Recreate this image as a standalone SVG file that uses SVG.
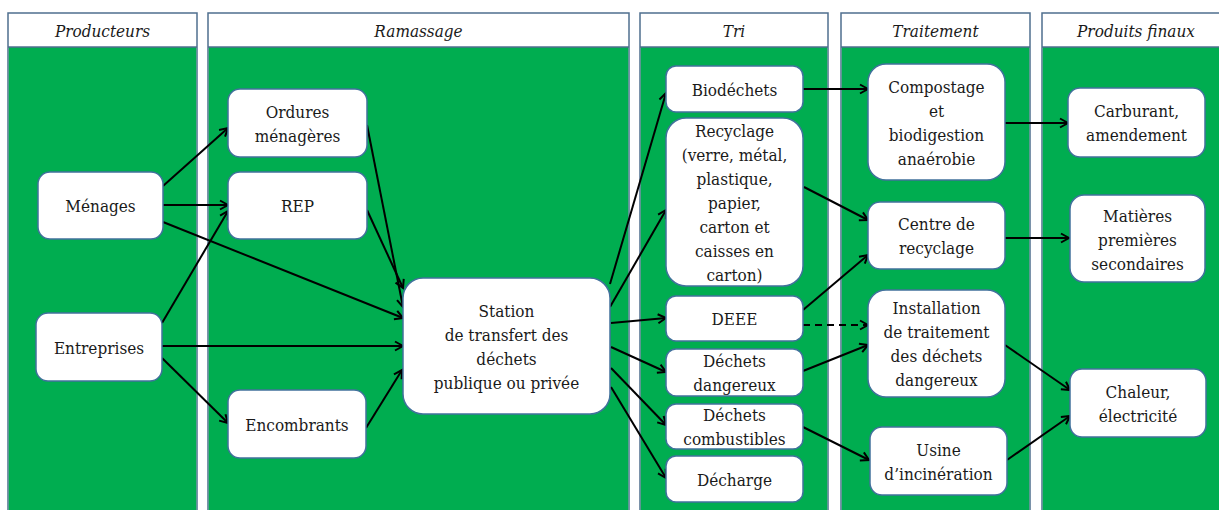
<svg xmlns="http://www.w3.org/2000/svg" width="1219" height="510" viewBox="0 0 1219 510">
<defs>
<style>
.col{fill:#ffffff;stroke:#4F6F8F;stroke-width:1.5}
.body{fill:#00AD50}
.hdr{font-family:'DejaVu Serif Condensed','DejaVu Serif',serif;font-stretch:condensed;font-style:italic;font-size:17px;fill:#1a1a1a;text-anchor:middle}
.node rect{fill:#ffffff;stroke:#41719C;stroke-width:1.5}
.node text{font-family:'DejaVu Serif Condensed','DejaVu Serif',serif;font-stretch:condensed;font-size:17px;fill:#1a1a1a;text-anchor:middle}
.conn line{stroke:#000;stroke-width:2;marker-end:url(#arr)}
.conn line.dash{stroke-dasharray:7 5}
</style>
<marker id="arr" markerUnits="userSpaceOnUse" markerWidth="12" markerHeight="12" refX="10" refY="6" orient="auto">
<path d="M2,1.5 L10,6 L2,10.5" fill="none" stroke="#000" stroke-width="2"/>
</marker>
</defs>
<rect width="1219" height="510" fill="#ffffff"/>
<g id="columns">
<g id="col-producteurs"><rect class="col" x="8" y="13" width="189" height="510"/><rect class="body" x="8.75" y="47" width="187.5" height="470"/><line x1="8" y1="47" x2="197" y2="47" stroke="#4F6F8F" stroke-width="1.5"/><text class="hdr" x="102.5" y="37">Producteurs</text></g>
<g id="col-ramassage"><rect class="col" x="208" y="13" width="421" height="510"/><rect class="body" x="208.75" y="47" width="419.5" height="470"/><line x1="208" y1="47" x2="629" y2="47" stroke="#4F6F8F" stroke-width="1.5"/><text class="hdr" x="418.5" y="37">Ramassage</text></g>
<g id="col-tri"><rect class="col" x="640" y="13" width="188" height="510"/><rect class="body" x="640.75" y="47" width="186.5" height="470"/><line x1="640" y1="47" x2="828" y2="47" stroke="#4F6F8F" stroke-width="1.5"/><text class="hdr" x="734" y="37">Tri</text></g>
<g id="col-traitement"><rect class="col" x="841" y="13" width="189" height="510"/><rect class="body" x="841.75" y="47" width="187.5" height="470"/><line x1="841" y1="47" x2="1030" y2="47" stroke="#4F6F8F" stroke-width="1.5"/><text class="hdr" x="935.5" y="37">Traitement</text></g>
<g id="col-produits"><rect class="col" x="1042" y="13" width="185" height="510"/><rect class="body" x="1042.75" y="47" width="183" height="470"/><line x1="1042" y1="47" x2="1227" y2="47" stroke="#4F6F8F" stroke-width="1.5"/><text class="hdr" x="1136" y="37">Produits finaux</text></g>
</g>
<g id="connectors" class="conn">
<line x1="163" y1="186" x2="228" y2="128"/>
<line x1="163" y1="205" x2="228" y2="205"/>
<line x1="163" y1="222" x2="403" y2="318"/>
<line x1="162" y1="323" x2="228" y2="211"/>
<line x1="162" y1="346" x2="403" y2="346"/>
<line x1="162" y1="358" x2="228" y2="423"/>
<line x1="366" y1="428" x2="402" y2="370"/>
<line x1="367" y1="125" x2="403" y2="307"/>
<line x1="367" y1="210" x2="403" y2="288"/>
<line x1="610" y1="284" x2="666" y2="93"/>
<line x1="610" y1="307" x2="666" y2="210"/>
<line x1="611" y1="323" x2="666" y2="318"/>
<line x1="611" y1="347" x2="666" y2="372"/>
<line x1="611" y1="368" x2="666" y2="425"/>
<line x1="611" y1="387" x2="666" y2="478"/>
<line x1="803" y1="89" x2="868" y2="89"/>
<line x1="804" y1="187" x2="868" y2="220"/>
<line x1="803" y1="310" x2="868" y2="255"/>
<line class="dash" x1="803" y1="325" x2="868" y2="325"/>
<line x1="803" y1="371" x2="868" y2="345"/>
<line x1="803" y1="427" x2="869" y2="460"/>
<line x1="1005" y1="123" x2="1068" y2="123"/>
<line x1="1005" y1="238" x2="1069" y2="238"/>
<line x1="1005" y1="345" x2="1070" y2="390"/>
<line x1="1007" y1="460" x2="1070" y2="416"/>
</g>
<g id="nodes">
<g id="menages" class="node"><rect x="38" y="172" width="125" height="67" rx="12"/><text x="100.5" y="212">Ménages</text></g>
<g id="entreprises" class="node"><rect x="36" y="313" width="126" height="68" rx="12"/><text x="99" y="353.5">Entreprises</text></g>
<g id="ordures" class="node"><rect x="228" y="89" width="139" height="68" rx="12"/><text x="297.5" y="117.5">Ordures</text><text x="297.5" y="141.5">ménagères</text></g>
<g id="rep" class="node"><rect x="228" y="172" width="139" height="67" rx="12"/><text x="297.5" y="212">REP</text></g>
<g id="encombrants" class="node"><rect x="228" y="390" width="138" height="68" rx="12"/><text x="297" y="430.5">Encombrants</text></g>
<g id="station" class="node"><rect x="403" y="278" width="207" height="136" rx="20"/><text x="506.5" y="316.5">Station</text><text x="506.5" y="340.5">de transfert des</text><text x="506.5" y="364.5">déchets</text><text x="506.5" y="388.5">publique ou privée</text></g>
<g id="biodechets" class="node"><rect x="666" y="66" width="137" height="46" rx="10"/><text x="734.5" y="95.5">Biodéchets</text></g>
<g id="recyclage" class="node"><rect x="666" y="118" width="137" height="168" rx="20"/><text x="734.5" y="136.5">Recyclage</text><text x="734.5" y="160.5">(verre, métal,</text><text x="734.5" y="184.5">plastique,</text><text x="734.5" y="208.5">papier,</text><text x="734.5" y="232.5">carton et</text><text x="734.5" y="256.5">caisses  en</text><text x="734.5" y="280.5">carton)</text></g>
<g id="deee" class="node"><rect x="666" y="296" width="137" height="45" rx="10"/><text x="734.5" y="325">DEEE</text></g>
<g id="dangereux" class="node"><rect x="666" y="349" width="137" height="47" rx="10"/><text x="734.5" y="366.5">Déchets</text><text x="734.5" y="390.5">dangereux</text></g>
<g id="combustibles" class="node"><rect x="666" y="404" width="137" height="45" rx="10"/><text x="734.5" y="420.5">Déchets</text><text x="734.5" y="444.5">combustibles</text></g>
<g id="decharge" class="node"><rect x="666" y="456" width="137" height="46" rx="10"/><text x="734.5" y="485.5">Décharge</text></g>
<g id="compostage" class="node"><rect x="868" y="64" width="137" height="116" rx="18"/><text x="936.5" y="92.5">Compostage</text><text x="936.5" y="116.5">et</text><text x="936.5" y="140.5">biodigestion</text><text x="936.5" y="164.5">anaérobie</text></g>
<g id="centre" class="node"><rect x="868" y="202" width="137" height="67" rx="12"/><text x="936.5" y="230">Centre de</text><text x="936.5" y="254">recyclage</text></g>
<g id="installation" class="node"><rect x="868" y="290" width="137" height="107" rx="18"/><text x="936.5" y="314">Installation</text><text x="936.5" y="338">de traitement</text><text x="936.5" y="362">des déchets</text><text x="936.5" y="386">dangereux</text></g>
<g id="usine" class="node"><rect x="870" y="427" width="137" height="68" rx="12"/><text x="938.5" y="455.5">Usine</text><text x="938.5" y="479.5">d’incinération</text></g>
<g id="carburant" class="node"><rect x="1068" y="88" width="137" height="69" rx="12"/><text x="1136.5" y="116.5">Carburant,</text><text x="1136.5" y="140.5">amendement</text></g>
<g id="matieres" class="node"><rect x="1070" y="195" width="135" height="87" rx="14"/><text x="1137.5" y="221.5">Matières</text><text x="1137.5" y="245.5">premières</text><text x="1137.5" y="269.5">secondaires</text></g>
<g id="chaleur" class="node"><rect x="1070" y="369" width="136" height="68" rx="12"/><text x="1138" y="397.5">Chaleur,</text><text x="1138" y="421.5">électricité</text></g>
</g>
</svg>
